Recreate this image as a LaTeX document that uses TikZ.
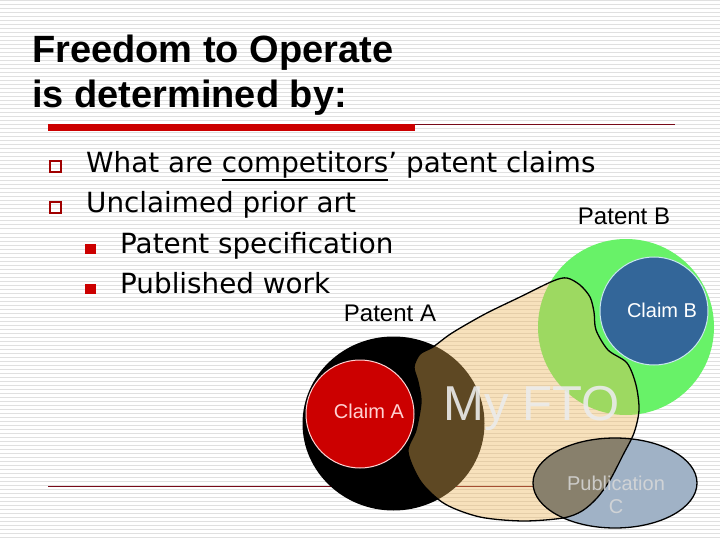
\documentclass[tikz,border=0pt]{standalone}
\usepackage{fontspec}
\setmainfont{Liberation Sans}
\newfontfamily\verdfont{DejaVu Sans}
\definecolor{stripe}{RGB}{224,224,224}
\definecolor{barred}{RGB}{204,0,0}
\definecolor{darkline}{RGB}{120,10,25}
\definecolor{bulletred}{RGB}{160,0,0}
\definecolor{pgreen}{RGB}{104,242,104}
\definecolor{claimblue}{RGB}{51,102,153}
\definecolor{claimBline}{RGB}{200,230,240}
\definecolor{claimred}{RGB}{204,0,0}
\definecolor{claimAline}{RGB}{255,210,210}
\definecolor{pubfill}{RGB}{160,178,198}
\definecolor{overlapc}{RGB}{136,128,108}
\definecolor{blobfill}{RGB}{237,180,88}
\newcommand\ulword[1]{\setbox0\hbox{#1}\rlap{\rule[-8pt]{\wd0}{1.8pt}}\box0}
\tikzset{
  titletext/.style={font=\fontsize{38}{44}\selectfont\bfseries, anchor=base west, inner sep=0},
  btext/.style={font=\verdfont\fontsize{27.8}{33}\selectfont, anchor=base west, inner sep=0},
  hollowbullet/.style={draw=bulletred, line width=2pt, minimum size=11pt, inner sep=0},
  fillbullet/.style={fill=barred, minimum size=10.5pt, inner sep=0},
  label24/.style={font=\fontsize{24}{28}\selectfont, anchor=base, inner sep=0},
  label20/.style={font=\fontsize{20}{23}\selectfont, anchor=base, inner sep=0},
}
\begin{document}
\begin{tikzpicture}[x=1pt,y=-1pt]
\useasboundingbox (0,0) rectangle (720,540);
\fill[white] (0,0) rectangle (720,540);
\foreach \i in {0,...,134} \draw[stripe, line width=1pt] (0,\i*4+1) -- (720,\i*4+1);

% title
\node[titletext] (t1) at (32,63) {Freedom to Operate};
\node[titletext] (t2) at (32,108) {is determined by:};
\fill[barred] (48,124) rectangle (415,131);
\draw[darkline, line width=1.2pt] (415,124.2) -- (675,124.2);

% bullets
\node[hollowbullet] (s1) at (55,167) {};
\node[hollowbullet] (s2) at (55,208) {};
\node[fillbullet] (s3) at (90.5,249) {};
\node[fillbullet] (s4) at (90.5,289) {};
\node[btext] (b1) at (86,173) {What are \ulword{competitors}’ patent claims};
\node[btext] (b2) at (86,213) {Unclaimed prior art};
\node[btext] (b3) at (120,253) {Patent specification};
\node[btext] (b4) at (120,293) {Published work};

% bottom line
\draw[darkline, line width=1.2pt] (48,486.5) -- (675,486.5);

% patent B
\fill[pgreen] (626,327) circle (88);
\draw[fill=claimblue, draw=claimBline, line width=1pt] (654,311) circle (54);

% patent A
\fill[black] (393.5,423.5) ellipse (91 and 87);
\draw[fill=claimred, draw=claimAline, line width=1pt] (360,414) circle (54);

% publication C
\fill[pubfill] (615,483) ellipse (82 and 45);

% My FTO blob
\path[save path=\blobp] plot[smooth cycle, tension=0.5] coordinates {
 (433,347) (452,333) (485,314) (520,297) (553,281) (567,278) (580,285)
 (590,297) (594,312) (596,330) (608,350) (627,363) (636,385) (639,410)
 (634,433) (623,455) (610,480) (597,498) (582,511) (563,518) (523,521)
 (480,517) (445,504) (421,482) (408,452) (416,430) (421,402) (418,382)
 (414,367) (420,354)};
\fill[blobfill, fill opacity=0.4, use path=\blobp];
\begin{scope}
  \clip (615,483) ellipse (82 and 45);
  \fill[overlapc, use path=\blobp];
\end{scope}
\draw[black, line width=1.3pt, use path=\blobp];
\draw[black, line width=1.3pt] (615,483) ellipse (82 and 45);

% labels
\node[label24] (pa) at (390,321) {Patent A};
\node[label24] (pb) at (624,225) {Patent B};
\node[label20, text=white] (cb) at (662,317) {Claim B};
\node[label20, text=claimAline] (ca) at (369,418) {Claim A};
\node[font=\fontsize{49}{56}\selectfont, anchor=base, inner sep=0, text=black!8, text opacity=0.9] (fto) at (532,420) {My FTO};
\node[label20, text=black!15, text opacity=0.85] (pc1) at (616,490) {Publication};
\node[label20, text=black!15, text opacity=0.85] (pc2) at (616,513) {C};
\end{tikzpicture}
\end{document}
